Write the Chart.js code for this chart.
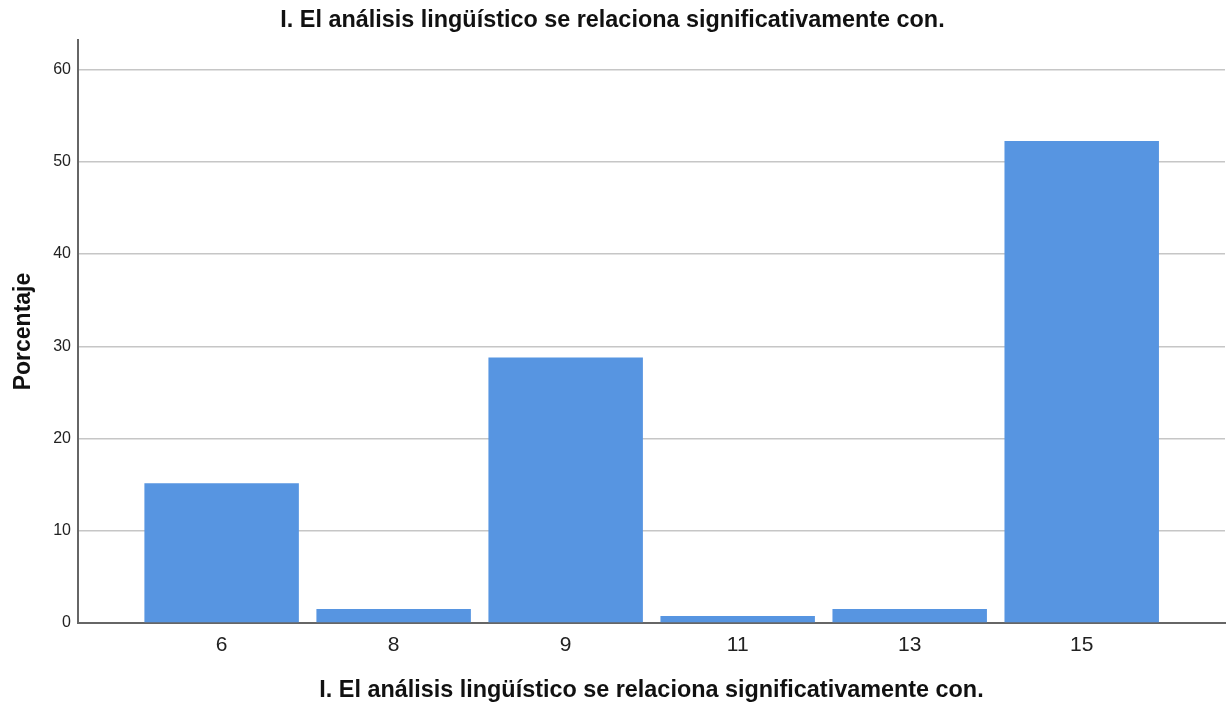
<!DOCTYPE html>
<html>
<head>
<meta charset="utf-8">
<script src="https://cdn.jsdelivr.net/npm/chart.js@4"></script>
<style>
  html, body { margin: 0; padding: 0; background: #fff; }
  #wrap { width: 1230px; height: 709px; }
</style>
</head>
<body>
<div id="wrap"><canvas id="pctChart"></canvas></div>
<script>
// values (looks like n = 132)
const categories = ["6", "8", "9", "11", "13", "15"];
const percentages = [15.15, 1.52, 28.79, 0.76, 1.52, 52.27];
const yTicks = [0, 10, 20, 30, 40, 50, 60];
const titleText = "I. El análisis lingüístico se relaciona significativamente con.";

const fontFamily = "'Liberation Sans', Arial, sans-serif";

const points = categories.map((c, i) => ({ x: i, y: percentages[i] }));

const chartElement = document.getElementById("pctChart");

const pctChart = new Chart(chartElement, {
    type: "bar",
    data: {
        datasets: [{
            label: "Porcentaje",
            data: points,
            backgroundColor: "rgb(87,149,225)",
            borderWidth: 0,
            categoryPercentage: 1,
            barPercentage: 0.898
        }]
    },
    options: {
        responsive: true,
        maintainAspectRatio: false,
        animation: false,
        layout: { padding: { left: 0, right: 5, top: 0, bottom: 0 } },
        plugins: {
            legend: { display: false },
            tooltip: { enabled: false },
            title: {
                display: true,
                text: titleText,
                color: "#111",
                font: { family: fontFamily, size: 23.4, weight: "bold" },
                padding: { top: 7, bottom: 5 }
            }
        },
        scales: {
            x: {
                type: "linear",
                offset: false,
                min: -0.835,
                max: 5.833,
                afterBuildTicks: (scale) => {
                    scale.ticks = categories.map((c, i) => ({ value: i }));
                },
                afterFit: (scale) => { scale.height = 86; },
                ticks: {
                    color: "#222",
                    padding: 10,
                    font: { family: fontFamily, size: 21 },
                    autoSkip: false,
                    maxRotation: 0,
                    callback: (v) => categories[v]
                },
                grid: { display: false, drawTicks: false, offset: false },
                border: { display: true, color: "#666", width: 2 },
                title: {
                    display: true,
                    text: titleText,
                    color: "#111",
                    font: { family: fontFamily, size: 23.4, weight: "bold" },
                    padding: { top: 0, bottom: 4 }
                }
            },
            y: {
                min: 0,
                max: 63.2,
                afterBuildTicks: (scale) => {
                    scale.ticks = yTicks.map(v => ({ value: v }));
                },
                afterFit: (scale) => { scale.width = 78; },
                ticks: {
                    color: "#222",
                    padding: 7,
                    font: { family: fontFamily, size: 16 }
                },
                grid: { color: "#c6c6c6", lineWidth: 1.5, drawTicks: false },
                border: { display: true, color: "#666", width: 2 },
                title: {
                    display: true,
                    text: "Porcentaje",
                    color: "#111",
                    font: { family: fontFamily, size: 23, weight: "bold" },
                    padding: { top: 10, bottom: 0 }
                }
            }
        }
    }
});
</script>
</body>
</html>
